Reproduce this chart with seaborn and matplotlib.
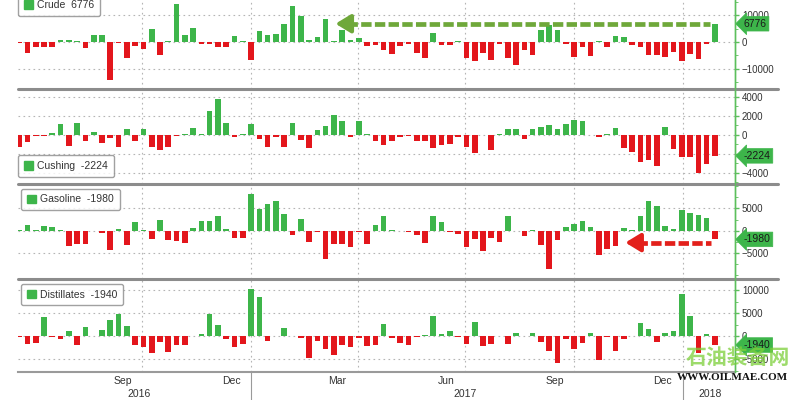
import numpy as np
import pandas as pd
import seaborn as sns
import matplotlib.pyplot as plt
import matplotlib.dates as mdates
import matplotlib.transforms as mtransforms
from matplotlib.patches import Patch
from matplotlib.lines import Line2D
from matplotlib.ticker import MultipleLocator

# weekly inventory changes (thousand barrels), one bar per week
start_date = "2016-06-19"
n_weeks = 85

crude = [-300, -4000, -1900, -1900, -1900, 800, 700, 500, -2200, 2500,
         2500, -14000, -500, -5900, -1600, -2500, 5000, -5000, 200, 14000,
         2500, 5200, -900, -900, -2000, -2000, 2100, 300, -6600, 4000,
         2700, 3100, 6500, 13500, 9700, 600, 1900, 8400, 200, 4500,
         700, 1500, -1500, -1000, -3100, -4400, -1500, -800, -4100, -5900,
         3400, -1000, -1000, 200, -5900, -7100, -4100, -6600, -800, -5900,
         -8500, -3100, -5000, 4600, 6200, 4600, -900, -5600, -1900, -5400,
         300, -1900, 2200, 1900, -1000, -1900, -5000, -5000, -5600, -3800,
         -6900, -4400, -6200, -700, 6776]

cushing = [-1240, -780, -120, -150, 150, 1130, -1170, 1240, -640, 300,
           -890, -350, -1240, 600, -600, 640, -1240, -1600, -1240, -100,
           80, 700, 50, 2480, 3820, 1240, -250, 100, 1130, -460,
           -1240, -250, -1240, 1240, -530, -1420, 530, 890, 2120, 1490,
           -180, 1490, 100, -600, -1060, -640, -250, -100, -640, -640,
           -1350, -1060, -990, -250, -1240, -1950, -50, -1600, 50, 600,
           600, -420, 640, 780, 990, 640, 1130, 1590, 1420, -60,
           -180, 50, 710, -1420, -1770, -2830, -2650, -3260, 780, -1490,
           -2300, -2300, -4070, -3120, -2224]

gasoline = [200, 1350, 150, 980, 750, 100, -3500, -3000, -3000, -50,
            -500, -4300, 300, -3300, 1900, 100, -2000, 2500, -2200, -2400,
            -2900, 600, 2100, 2100, 3200, 300, -1650, -1650, 8250, 4900,
            6000, 6600, 3750, -900, 2700, -2600, -300, -6500, -3000, -3000,
            -3750, -400, -3000, 1350, 3200, 100, -100, -200, -900, -2900,
            3200, 1950, -300, -750, -3750, -1800, -4500, -1650, -2550, 3200,
            -100, -1300, 50, -3150, -8550, -2200, 750, 1500, 2250, 750,
            -5550, -4050, -3500, 600, 100, 3400, 6600, 5500, 1100, 400,
            4700, 4000, 3450, 2850, -1980]

distillates = [-100, -1740, -1600, 4200, -300, -700, 1000, -1950, 1900, 100,
               1300, 3500, 4800, 2200, -1950, -2300, -3600, -1250, -3400, -1950,
               -1950, 100, 350, 4900, 2400, -700, -2450, -1750, 10150, 8400,
               -1000, 50, 1650, -50, -500, -4850, -1000, -2700, -4150, -1950,
               -2450, -500, -2200, -1950, 2600, -500, -1450, -1950, -300, 250,
               4350, 350, 1100, -200, -1750, 3100, -2200, -1750, 50, -1750,
               600, 50, 600, -1250, -3200, -5800, -700, -2700, -1450, 600,
               -5100, -100, -3250, -700, 50, 2750, 1600, -1250, 700, 1000,
               9150, 4350, -3750, 450, -1940]

names = ["Crude", "Cushing", "Gasoline", "Distillates"]
latest = ["6776", "-2224", "-1980", "-1940"]
series = [crude, cushing, gasoline, distillates]

GREEN = "#3db54a"
RED = "#e3161c"
AXGREEN = "#5cbf5c"
GRID = "#b5b5b5"

sns.set_style("white")
plt.rcParams["font.family"] = ["Liberation Sans", "DejaVu Sans"]

dates = pd.date_range(start_date, periods=n_weeks, freq="7D")
xnum = mdates.date2num(dates)
xlim = mdates.date2num(pd.to_datetime(["2016-06-18", "2018-02-14"]))
quarters = mdates.date2num(pd.date_range("2016-10-01", "2018-01-01", freq="QS"))
months = mdates.date2num(pd.date_range("2016-07-01", "2018-02-01", freq="MS"))

# panel layout in pixels (top, bottom)
panel_px = [(0, 88.5), (88.5, 184), (184, 279), (279, 372)]
LEFT, RIGHT = 18, 735
W, H = 800, 400

ylims = [(-17300, 15600), (-5200, 4900), (-10900, 10500), (-7800, 12400)]
yticks = [[-10000, 0, 10000], [-4000, -2000, 0, 2000, 4000], [-5000, 0, 5000],
          [-5000, 0, 5000, 10000]]
yminor = [5000, 1000, 2500, 2500]

fig = plt.figure(figsize=(8, 4), dpi=100)
axes = []
for top, bot in panel_px:
    ax = fig.add_axes([LEFT / W, 1 - bot / H, (RIGHT - LEFT) / W, (bot - top) / H])
    axes.append(ax)

for k, ax in enumerate(axes):
    df = pd.DataFrame({"x": xnum, "v": series[k]})
    df["sign"] = np.where(df["v"] >= 0, "up", "down")
    sns.barplot(data=df, x="x", y="v", hue="sign", palette={"up": GREEN, "down": RED},
                native_scale=True, dodge=False, width=0.68, errorbar=None,
                legend=False, saturation=1, linewidth=0, edgecolor="none",
                ax=ax, zorder=3)
    ax.set_xlim(*xlim)
    ax.set_ylim(*ylims[k])
    ax.set_xlabel("")
    ax.set_ylabel("")

    for s in ["top", "left", "bottom"]:
        ax.spines[s].set_visible(False)
    ax.spines["right"].set_color(AXGREEN)
    ax.spines["right"].set_linewidth(1)

    ax.yaxis.tick_right()
    ax.set_yticks(yticks[k])
    ax.yaxis.set_minor_locator(MultipleLocator(yminor[k]))
    ax.tick_params(axis="y", which="major", direction="out", length=3, width=1,
                   colors=AXGREEN, labelcolor="#333333", labelsize=7, pad=2)
    ax.tick_params(axis="y", which="minor", direction="out", length=2, colors=AXGREEN)

    ax.set_xticks(quarters)
    ax.set_xticks(months, minor=True)
    ax.set_xticklabels([])
    ax.tick_params(axis="x", which="both", length=0)

    ax.grid(axis="both", which="major", color=GRID, linestyle=(0, (1.5, 3)), linewidth=0.8)
    ax.set_axisbelow(True)

    # series value box on the right axis
    trans = mtransforms.blended_transform_factory(ax.transAxes, ax.transData)
    ax.text(1.012, float(latest[k]), latest[k], transform=trans, fontsize=7.5,
            color="#1a1a1a", va="center", ha="left", clip_on=False, zorder=10,
            bbox=dict(boxstyle="larrow,pad=0.22", fc=GREEN, ec=GREEN, lw=0.5))

# legend boxes
leg_pos = [("upper left", (0.0, 1.065)), ("lower left", (0.0, 0.075)),
           ("upper left", (0.004, 0.95)), ("upper left", (0.004, 0.948))]
for k, ax in enumerate(axes):
    loc, anchor = leg_pos[k]
    leg = ax.legend(handles=[Patch(color=GREEN)], labels=[f"{names[k]}  {latest[k]}"],
                    loc=loc, bbox_to_anchor=anchor, fontsize=7.5, frameon=True,
                    fancybox=True, handlelength=0.9, handleheight=0.9,
                    handletextpad=0.4, borderpad=0.55, borderaxespad=0)
    leg.get_frame().set_edgecolor("#8a8a8a")
    leg.get_frame().set_linewidth(1.0)
    leg.get_texts()[0].set_color("#333333")
    leg.set_zorder(8)

# dashed pointer arrows
def pointer(ax, head, tail, yv, color):
    h, t = mdates.date2num(pd.to_datetime([head, tail]))
    ax.plot([h + 12, t], [yv, yv], color=color, lw=3.4, ls=(0, (2.2, 0.7)),
            solid_capstyle="butt", zorder=6)
    ax.annotate("", xy=(h, yv), xytext=(h + 14, yv), zorder=6,
                arrowprops=dict(arrowstyle="-|>,head_length=0.9,head_width=0.55",
                                color=color, lw=3))

pointer(axes[0], "2017-03-11", "2018-01-24", 6776, "#6fa83a")
pointer(axes[2], "2017-11-11", "2018-01-25", -2700, "#e3201b")

# bottom axis
ax4 = axes[3]
ax4.spines["bottom"].set_visible(True)
ax4.spines["bottom"].set_color("#9a9a9a")
ax4.spines["bottom"].set_linewidth(1.5)
ax4.tick_params(axis="x", which="both", length=3, color="#9a9a9a", direction="out")
btrans = mtransforms.blended_transform_factory(ax4.transData, ax4.transAxes)
month_lbl = [("2016-09-15", "Sep"), ("2016-12-15", "Dec"), ("2017-03-15", "Mar"),
             ("2017-06-15", "Jun"), ("2017-09-15", "Sep"), ("2017-12-15", "Dec")]
for d, t in month_lbl:
    ax4.text(mdates.date2num(pd.Timestamp(d)), -0.04, t, transform=btrans,
             ha="center", va="top", fontsize=7.5, color="#333333")
year_lbl = [("2016-09-28", "2016"), ("2017-07-01", "2017"), ("2018-01-24", "2018")]
for d, t in year_lbl:
    ax4.text(mdates.date2num(pd.Timestamp(d)), -0.18, t, transform=btrans,
             ha="center", va="top", fontsize=7.5, color="#333333")
for d in ["2017-01-01", "2018-01-01"]:
    xv = mdates.date2num(pd.Timestamp(d))
    ax4.plot([xv, xv], [0, -0.32], transform=btrans, clip_on=False,
             color="#9a9a9a", lw=0.8)

# panel separators and right axis line
for y in [88.5, 184, 279]:
    fig.add_artist(Line2D([LEFT / W, 778 / W], [1 - y / H] * 2, color="#8c8c8c", lw=2.2))
fig.add_artist(Line2D([RIGHT / W] * 2, [1, 1 - 372 / H], color=AXGREEN, lw=1))

# watermark
fig.text(0.922, 1 - 357 / H, "石油装备网", fontsize=15, color="#7ccf3a", alpha=0.75,
         ha="center", va="center", family=["Noto Sans CJK SC", "DejaVu Sans"],
         fontweight="bold")
fig.text(0.916, 1 - 377 / H, "WWW.OILMAE.COM", fontsize=8, color="#111111",
         ha="center", va="center", family=["Liberation Serif", "DejaVu Serif"],
         fontweight="bold")

fig.savefig("out.png", dpi=100)
